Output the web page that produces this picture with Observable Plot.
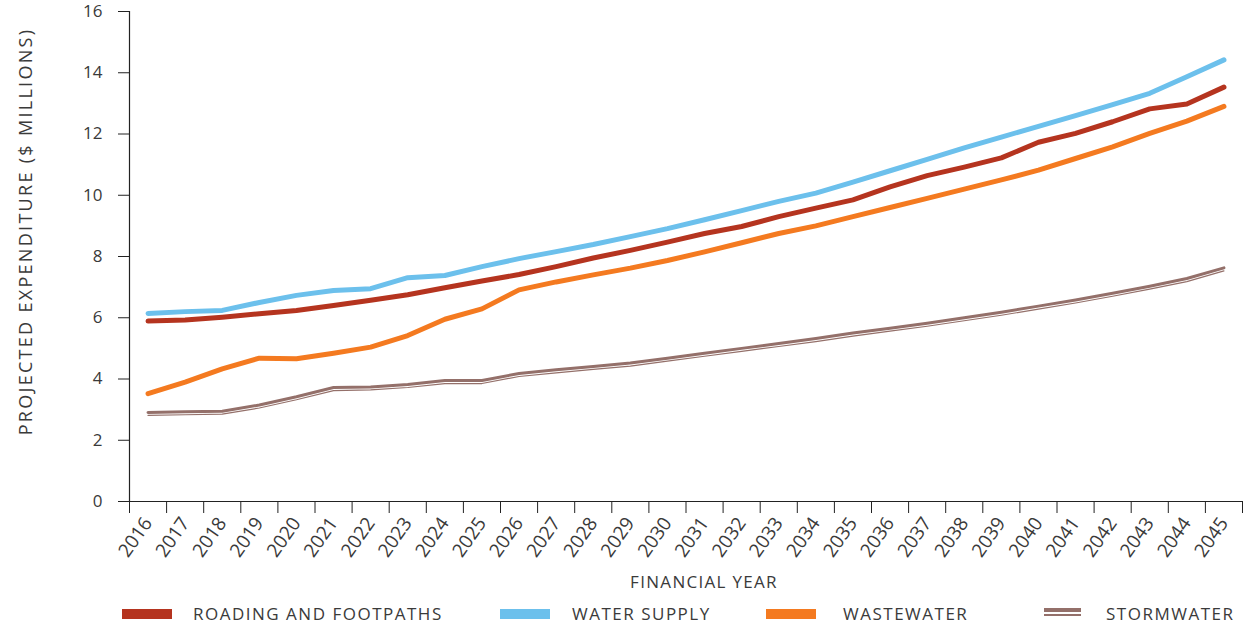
<!DOCTYPE html>
<html>
<head>
<meta charset="utf-8">
<script src="https://cdn.jsdelivr.net/npm/d3@7"></script>
<script src="https://cdn.jsdelivr.net/npm/@observablehq/plot@0.6"></script>
<style>
  body { margin: 0; background: #fff; font-family: "Open Sans", sans-serif; color: #3a3a3a; }
  #wrap { position: relative; width: 1250px; height: 627px; }
  #xlabel { position: absolute; top: 570px; left: 0; width: 1408px; text-align: center; font-size: 17px; letter-spacing: 1.3px; }
  .sw { position: absolute; top: 609px; height: 10px; width: 50px; }
  .swd { position: absolute; top: 608px; width: 37px; }
  .lt { position: absolute; top: 602px; font-size: 17px; letter-spacing: 1.5px; white-space: nowrap; }
</style>
</head>
<body>
<div id="wrap">
  <div id="chart"></div>
  <div id="xlabel">FINANCIAL YEAR</div>
  <div id="legend"></div>
</div>
<script>
const years = d3.range(2016, 2046);
const roading = [5.89, 5.93, 6.02, 6.13, 6.24, 6.40, 6.57, 6.75, 6.98, 7.20, 7.41, 7.67, 7.95, 8.20, 8.47, 8.75, 8.98, 9.30, 9.58, 9.85, 10.27, 10.64, 10.92, 11.22, 11.73, 12.02, 12.40, 12.82, 12.98, 13.53];
const waterSupply = [6.14, 6.20, 6.24, 6.50, 6.73, 6.89, 6.95, 7.31, 7.38, 7.67, 7.93, 8.16, 8.39, 8.65, 8.91, 9.20, 9.50, 9.80, 10.07, 10.43, 10.80, 11.17, 11.55, 11.90, 12.25, 12.60, 12.96, 13.33, 13.87, 14.42];
const wastewater = [3.52, 3.90, 4.33, 4.68, 4.66, 4.84, 5.04, 5.42, 5.95, 6.29, 6.91, 7.17, 7.40, 7.62, 7.87, 8.15, 8.45, 8.75, 9.00, 9.30, 9.60, 9.90, 10.20, 10.50, 10.82, 11.20, 11.58, 12.02, 12.42, 12.90];
const stormwater = [2.91, 2.93, 2.95, 3.15, 3.42, 3.72, 3.74, 3.82, 3.95, 3.95, 4.18, 4.30, 4.41, 4.52, 4.68, 4.84, 5.00, 5.16, 5.32, 5.50, 5.66, 5.82, 6.00, 6.18, 6.38, 6.58, 6.80, 7.03, 7.28, 7.63];
const seriesNames = ["ROADING AND FOOTPATHS", "WATER SUPPLY", "WASTEWATER", "STORMWATER"];
const seriesColors = ["#b5341f", "#6cc0ec", "#f47a20", "#94706a"];
const yTicks = [0, 2, 4, 6, 8, 10, 12, 14, 16];
const yLabel = "PROJECTED EXPENDITURE ($ MILLIONS)";

const toRows = (vals) => years.map((y, i) => ({year: y, value: vals[i]}));
const boundaries = years.map(y => y - 0.5).concat([years[years.length - 1] + 0.5]);
const xDomain = [boundaries[0], boundaries[boundaries.length - 1]];

const plot = Plot.plot({
  width: 1250,
  height: 571,
  marginLeft: 129,
  marginRight: 8,
  marginTop: 11,
  marginBottom: 70,
  style: {fontFamily: "'Open Sans', sans-serif", fontSize: "17px", color: "#3a3a3a", background: "#fff"},
  x: {domain: xDomain},
  y: {domain: [0, 16]},
  marks: [
    Plot.axisY({ticks: yTicks, tickSize: 11, tickPadding: 16, tickFormat: d3.format("d"), label: null, stroke: "#222", fontSize: 17}),
    Plot.text([yLabel], {frameAnchor: "left", dx: -103, dy: -25, rotate: -90, textAnchor: "middle", fontSize: 18, text: d => d, fill: "#3a3a3a"}),
    Plot.axisX({ticks: boundaries, tickSize: 12, tickFormat: () => "", stroke: "#222", label: null}),
    Plot.axisX({ticks: years, tickSize: 0, tickPadding: 18, tickRotate: -55, tickFormat: d3.format("d"), label: null, fontSize: 19}),
    Plot.ruleX([xDomain[0]], {y1: 0, y2: 16, stroke: "#222", strokeWidth: 1.2}),
    Plot.ruleY([0], {stroke: "#222", strokeWidth: 1.2}),
    Plot.line(toRows(stormwater), {x: "year", y: "value", stroke: seriesColors[3], strokeWidth: 1.2, dy: 3}),
    Plot.line(toRows(stormwater), {x: "year", y: "value", stroke: seriesColors[3], strokeWidth: 3}),
    Plot.line(toRows(wastewater), {x: "year", y: "value", stroke: seriesColors[2], strokeWidth: 5, strokeLinecap: "round", strokeLinejoin: "round"}),
    Plot.line(toRows(roading), {x: "year", y: "value", stroke: seriesColors[0], strokeWidth: 5, strokeLinecap: "round", strokeLinejoin: "round"}),
    Plot.line(toRows(waterSupply), {x: "year", y: "value", stroke: seriesColors[1], strokeWidth: 5, strokeLinecap: "round", strokeLinejoin: "round"})
  ]
});
d3.select(plot).selectAll("text").filter(function() { return this.textContent === yLabel; })
  .style("letter-spacing", "2.3px");
document.getElementById("chart").appendChild(plot);

// legend
const swatchLefts = [122, 500, 766, 1044];
const textLefts = [193, 572, 843, 1106];
const legend = document.getElementById("legend");
seriesNames.forEach((name, i) => {
  const sw = document.createElement("div");
  if (i === 3) {
    sw.className = "swd";
    sw.innerHTML = `<div style="height:4px;background:${seriesColors[i]}"></div><div style="height:2px"></div><div style="height:1.5px;background:${seriesColors[i]}"></div>`;
  } else {
    sw.className = "sw";
    sw.style.background = seriesColors[i];
  }
  sw.style.left = swatchLefts[i] + "px";
  legend.appendChild(sw);
  const t = document.createElement("div");
  t.className = "lt";
  t.style.left = textLefts[i] + "px";
  t.textContent = name;
  legend.appendChild(t);
});
</script>
</body>
</html>
